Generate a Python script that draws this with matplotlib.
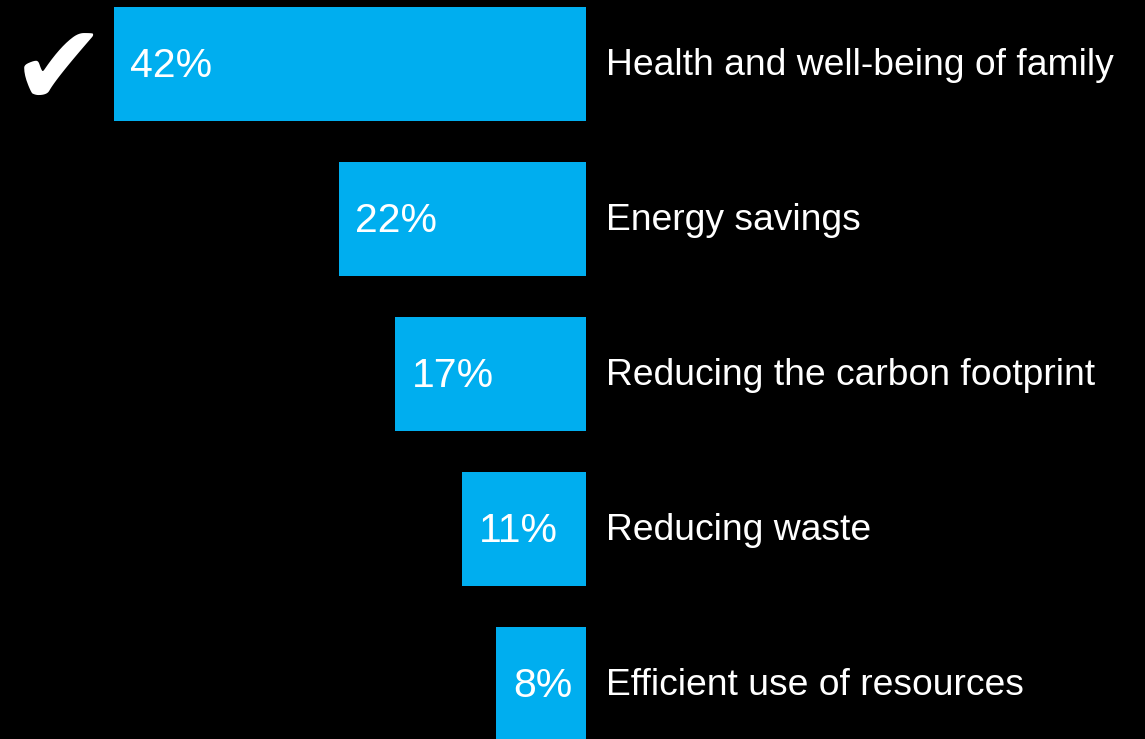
import matplotlib
matplotlib.use('Agg')
import matplotlib.pyplot as plt

# share of respondents by main motivation
categories = ['Health and well-being of family', 'Energy savings',
              'Reducing the carbon footprint', 'Reducing waste',
              'Efficient use of resources']
shares = [42, 22, 17, 11, 8]

plt.rcParams['font.family'] = ['Liberation Sans', 'DejaVu Sans']

fig = plt.figure(figsize=(11.45, 7.39), dpi=100, facecolor='black')
ax = fig.add_axes([0, 0, 1, 1])
ax.set_facecolor('black')

ypos = range(len(categories))
ax.barh(ypos, shares, height=0.735, color='#00AEEF')

# bars grow to the left from a common base
ax.set_xlim(52.1, -49.7)
ax.set_ylim(4.355, -0.413)
ax.axis('off')

for y, v, name in zip(ypos, shares, categories):
    ax.text(v - 1.5, y + 0.01, f'{v}%', color='white', fontsize=29.5,
            ha='left', va='center')
    ax.text(-1.8, y + 0.01, name, color='white', fontsize=26.8,
            ha='left', va='center')

ax.text(46.9, 0.07, '\u2714', color='white', fontsize=82,
        family='DejaVu Sans', ha='center', va='center')

fig.savefig('out.png', dpi=100, facecolor='black')
